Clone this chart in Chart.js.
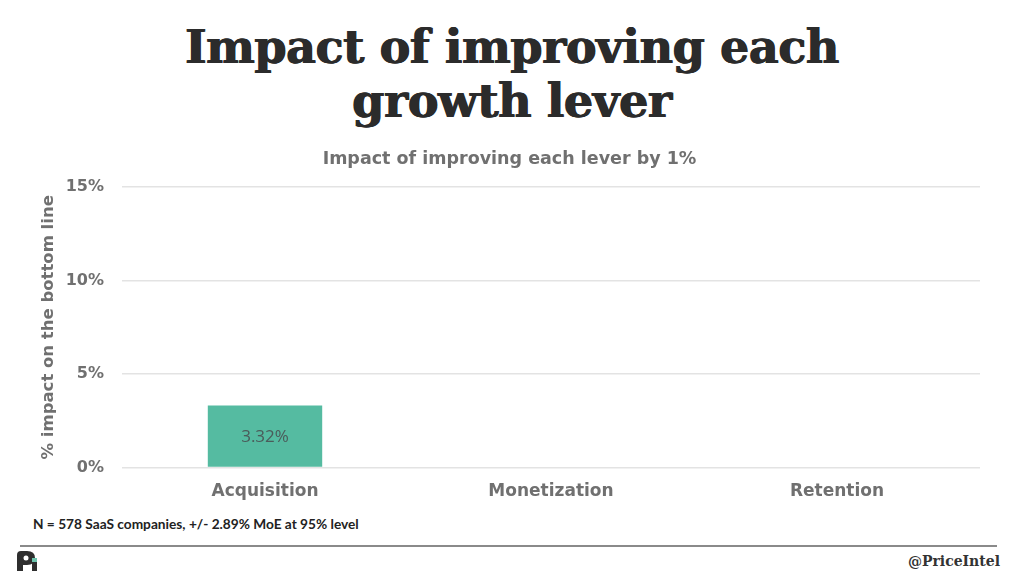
<!DOCTYPE html>
<html>
<head>
<meta charset="utf-8">
<script src="https://cdn.jsdelivr.net/npm/chart.js@4.4.1/dist/chart.umd.min.js"></script>
<style>
  html, body { margin: 0; padding: 0; background: #fff; }
  body { width: 1024px; height: 576px; position: relative; overflow: hidden; font-family: "DejaVu Sans", sans-serif; }
  #title { position: absolute; left: 0; top: 20px; width: 1024px; text-align: center; font-family: "DejaVu Serif", serif; font-weight: bold; font-size: 46px; line-height: 54px; color: #2b2b2b; letter-spacing: -0.4px; text-shadow: 0.6px 0 0 #2b2b2b, -0.6px 0 0 #2b2b2b; }
  #chartBox { position: absolute; left: 0; top: 135px; width: 1024px; height: 377px; }
  #note { position: absolute; left: 33px; top: 515px; font-family: Lato, sans-serif; font-weight: bold; font-size: 13.7px; color: #222; }
  #rule { position: absolute; left: 20px; top: 545px; width: 977px; height: 0; border-top: 2px solid #8a8a8a; }
  #handle { position: absolute; right: 24px; top: 553px; font-family: "DejaVu Serif", serif; font-weight: bold; font-size: 14px; color: #333; }
  #logo { position: absolute; left: 15px; top: 549px; }
</style>
</head>
<body>
<div id="title">Impact of improving each<br>growth lever</div>
<div id="chartBox"><canvas id="leverChart"></canvas></div>
<div id="note">N = 578 SaaS companies, +/- 2.89% MoE at 95% level</div>
<div id="rule"></div>
<svg id="logo" width="26" height="24" viewBox="0 0 26 24">
  <path d="M2 22 V6 Q2 2 6 2 H12 Q20 2 20 9 Q20 16 12 16 H8 V22 Z" fill="#2e2e2e"/>
  <circle cx="11" cy="9" r="2.5" fill="#fff"/>
  <rect x="17" y="12" width="5" height="10" fill="#2e2e2e"/>
  <path d="M17 9 L22 9 L22 13 L17 13 Z" fill="#6cc4ad"/>
</svg>
<div id="handle">@PriceIntel</div>
<script>
// --- Data ---
const levers = ['Acquisition', 'Monetization', 'Retention'];
const impactPct = [3.32, null, null];
const yTicks = [0, 5, 10, 15];

const barColor = '#55bba1';
const greyText = '#707070';
const sansBold = 'DejaVu Sans';

// value label inside the bar
const barLabels = {
  id: 'barLabels',
  afterDatasetsDraw(chart) {
    const { ctx } = chart;
    const meta = chart.getDatasetMeta(0);
    ctx.save();
    ctx.font = '17px "Open Sans", sans-serif';
    ctx.fillStyle = '#4b5b5a';
    ctx.textAlign = 'center';
    ctx.textBaseline = 'middle';
    meta.data.forEach((bar, i) => {
      const v = impactPct[i];
      if (v === null) return;
      const mid = (bar.y + bar.base) / 2;
      ctx.fillText(v.toFixed(2) + '%', bar.x, mid + 1);
    });
    ctx.restore();
  }
};

new Chart(document.getElementById('leverChart'), {
  type: 'bar',
  data: {
    labels: levers,
    datasets: [{
      data: impactPct,
      backgroundColor: barColor,
      categoryPercentage: 0.5,
      barPercentage: 0.8
    }]
  },
  options: {
    responsive: true,
    maintainAspectRatio: false,
    animation: false,
    layout: { padding: { left: 39, right: 44, top: 0, bottom: 4 } },
    plugins: {
      legend: { display: false },
      tooltip: { enabled: false },
      title: {
        display: true,
        text: 'Impact of improving each lever by 1%',
        color: greyText,
        font: { family: sansBold, size: 17.5, weight: 'bold' },
        padding: { top: 14, bottom: 17 }
      }
    },
    scales: {
      x: {
        grid: { display: false },
        border: { display: false },
        ticks: { color: greyText, padding: 6, font: { family: sansBold, size: 17, weight: 'bold' } }
      },
      y: {
        min: 0,
        max: 15,
        afterFit(scale) { scale.width = 83; },
        afterBuildTicks(scale) { scale.ticks = yTicks.map(v => ({ value: v })); },
        grid: { color: '#e3e3e3', drawTicks: false, lineWidth: 1.5 },
        border: { display: false },
        ticks: {
          color: greyText,
          padding: 18,
          font: { family: sansBold, size: 16, weight: 'bold' },
          callback: v => v + '%'
        },
        title: {
          display: true,
          text: '% impact on the bottom line',
          color: greyText,
          padding: 0,
          font: { family: sansBold, size: 16.5, weight: 'bold' }
        }
      }
    }
  },
  plugins: [barLabels]
});
</script>
</body>
</html>
